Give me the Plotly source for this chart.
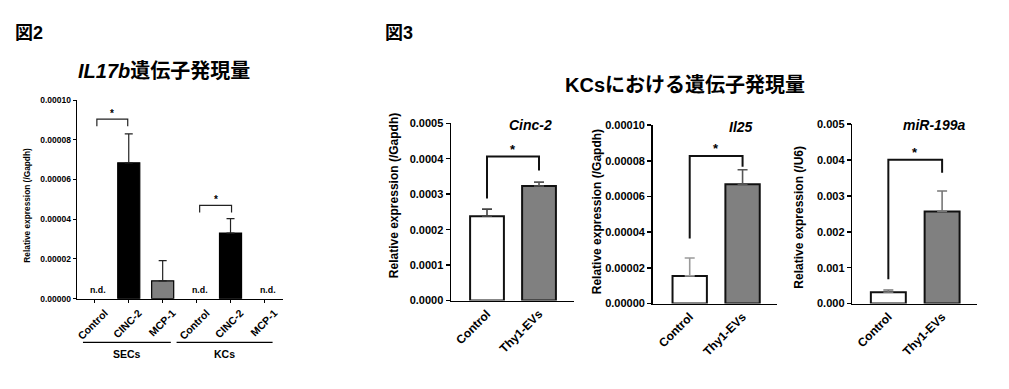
import plotly.graph_objects as go

# ---------------- data ----------------
# Figure 2: IL17b expression
il17b_labels = ["Control", "CINC-2", "MCP-1", "Control", "CINC-2", "MCP-1"]
il17b_values = [None, 0.0000684, 0.0000090, None, 0.0000330, None]
il17b_errors = [None, 0.0000146, 0.0000102, None, 0.0000073, None]
il17b_fills = ["#000000", "#000000", "#808080", "#000000", "#000000", "#000000"]
il17b_groups = ["SECs", "KCs"]
il17b_yticks = [0, 0.00002, 0.00004, 0.00006, 0.00008, 0.00010]

# Figure 3: KCs
kc_labels = ["Control", "Thy1-EVs"]
cinc2_values = [0.000238, 0.000323]
cinc2_errors = [0.000020, 0.000011]
il25_values = [0.0000155, 0.0000669]
il25_errors = [0.0000100, 0.0000081]
mir199a_values = [0.000316, 0.00257]
mir199a_errors = [0.000062, 0.00057]
kc_fills = ["#ffffff", "#808080"]
cinc2_yticks = [0, 0.0001, 0.0002, 0.0003, 0.0004, 0.0005]
il25_yticks = [0, 0.00002, 0.00004, 0.00006, 0.00008, 0.00010]
mir_yticks = [0, 0.001, 0.002, 0.003, 0.004, 0.005]

W, H = 1009, 389
LAT = "Arial, 'Liberation Sans', sans-serif"
CJK = "'Liberation Sans', 'Noto Sans CJK JP', sans-serif"
BLK = "#000000"


def fx(p):
    return p / W


def fy(p):
    return 1 - p / H


def fnt(size, fam=LAT):
    return dict(size=size, weight="bold", family=fam, color=BLK)


fig = go.Figure()

# ---------- panel 1 ----------
for i, (v, e, c) in enumerate(zip(il17b_values, il17b_errors, il17b_fills)):
    if v is None:
        continue
    fig.add_trace(go.Bar(
        x=[i], y=[v], width=0.65, xaxis="x", yaxis="y",
        marker=dict(color=c, line=dict(color=BLK, width=1.2)),
        error_y=dict(type="data", symmetric=False, array=[e], arrayminus=[0],
                     color="#222222", thickness=1.2, width=4),
        showlegend=False, hoverinfo="skip"))

# ---------- panels 2-4 ----------
err_cols = {
    "x2": ["#444444", "#555555"],
    "x3": ["#9a9a9a", "#555555"],
    "x4": ["#777777", "#777777"],
}
for ax, ay, vals, errs in [("x2", "y2", cinc2_values, cinc2_errors),
                           ("x3", "y3", il25_values, il25_errors),
                           ("x4", "y4", mir199a_values, mir199a_errors)]:
    for i, (v, e, c) in enumerate(zip(vals, errs, kc_fills)):
        fig.add_trace(go.Bar(
            x=[i], y=[v], width=0.65, xaxis=ax, yaxis=ay,
            marker=dict(color=c, line=dict(color="#111111", width=2)),
            error_y=dict(type="data", symmetric=False, array=[e], arrayminus=[0],
                         color=err_cols[ax][i], thickness=1.6, width=5),
            showlegend=False, hoverinfo="skip"))

axis_common = dict(showline=True, linecolor=BLK, showgrid=False,
                   zeroline=False, ticks="outside", tickcolor=BLK)

layout = dict(
    width=W, height=H, margin=dict(l=0, r=0, t=0, b=0),
    paper_bgcolor="white", plot_bgcolor="white", barmode="overlay",
    font=dict(family=LAT, color=BLK),
)

# panel 1 axes
layout["xaxis"] = dict(axis_common, domain=[fx(75), fx(282)], anchor="y",
                       range=[-0.53, 5.56], tickvals=list(range(6)),
                       ticktext=il17b_labels, tickangle=-45, ticklen=3,
                       linewidth=1.2, tickwidth=1, ticklabelshift=10,
                       tickfont=fnt(10.5))
layout["yaxis"] = dict(axis_common, domain=[fy(302), fy(97)], anchor="x",
                       range=[0, 0.0001], tickvals=il17b_yticks,
                       tickformat=".5f", ticklen=3, linewidth=1.2, tickwidth=1,
                       tickfont=fnt(8.5))

# panels 2-4 axes
specs = [
    ("2", (450, 573), (304, 121), [-0.69, 1.67], [0, 0.0005], cinc2_yticks, ".4f"),
    ("3", (652, 777), (307, 123), [-0.70, 1.66], [0, 0.0001], il25_yticks, ".5f"),
    ("4", (852, 977), (307, 122), [-0.67, 1.65], [0, 0.005], mir_yticks, ".3f"),
]
for n, (xl, xr), (yb, yt), xr_rng, yr_rng, yt_vals, fmt in specs:
    layout["xaxis" + n] = dict(axis_common, domain=[fx(xl), fx(xr)], anchor="y" + n,
                               range=xr_rng, tickvals=[0, 1], ticktext=kc_labels,
                               tickangle=-45, ticks="", linewidth=1.6,
                               tickfont=fnt(12))
    layout["yaxis" + n] = dict(axis_common, domain=[fy(yb), fy(yt)], anchor="x" + n,
                               range=yr_rng, tickvals=yt_vals, tickformat=fmt,
                               ticklen=4, linewidth=1.6, tickwidth=1.5,
                               tickfont=fnt(11))

fig.update_layout(**layout)

shapes = []
annotations = []

# significance brackets: (xref, yref, x0, x1, y, yleft, yright, linecolor, width)
brackets = [
    ("x", "y", 0.06, 0.97, 0.0000904, 0.0000868, 0.0000868, "#222222", 1.2),
    ("x", "y", 3.09, 4.03, 0.0000470, 0.0000434, 0.0000434, "#222222", 1.2),
    ("x2", "y2", 0.0, 1.0, 0.000406, 0.000288, 0.000367, "#111111", 2),
    ("x3", "y3", 0.0, 1.0, 0.0000827, 0.0000364, 0.0000767, "#111111", 2),
    ("x4", "y4", 0.0, 1.0, 0.00401, 0.000676, 0.00365, "#111111", 2),
]
star_sizes = [10, 10, 13, 13, 13]
for (xr_, yr_, x0, x1, y, yl, yr2, col, lw), ss in zip(brackets, star_sizes):
    path = f"M {x0} {yl} L {x0} {y} L {x1} {y} L {x1} {yr2}"
    shapes.append(dict(type="path", path=path, xref=xr_, yref=yr_,
                       line=dict(color=col, width=lw)))
    annotations.append(dict(x=(x0 + x1) / 2, y=y, xref=xr_, yref=yr_, text="*",
                            showarrow=False, xanchor="center", yanchor="bottom",
                            yshift=-2, font=fnt(ss)))

# n.d. labels
for i, v in enumerate(il17b_values):
    if v is None:
        annotations.append(dict(x=i + 0.1, y=0, xref="x", yref="y", text="n.d.",
                                showarrow=False, xanchor="center", yanchor="bottom",
                                yshift=2, font=fnt(8.8)))

# group lines + labels
for (g0, g1), name in zip([(-0.35, 2.24), (2.41, 5.24)], il17b_groups):
    shapes.append(dict(type="line", xref="x", yref="paper", x0=g0, x1=g1,
                       y0=fy(347), y1=fy(347), line=dict(color=BLK, width=1.2)))
    annotations.append(dict(x=(g0 + g1) / 2, y=fy(359), xref="x", yref="paper",
                            text=name, showarrow=False, xanchor="center",
                            yanchor="middle", font=fnt(10.5)))

# y-axis titles
ytitles = [
    (25, 205, "Relative expression (/Gapdh)", 8.3),
    (393, 196, "Relative expression (/Gapdh)", 12),
    (597, 212, "Relative expression (/Gapdh)", 12),
    (799, 218, "Relative expression (/U6)", 12),
]
for x, y, t, s in ytitles:
    annotations.append(dict(x=fx(x), y=fy(y), xref="paper", yref="paper", text=t,
                            textangle=-90, showarrow=False, xanchor="center",
                            yanchor="middle", font=fnt(s)))

# gene labels
genes = [(530, 123, "Cinc-2"), (740, 125, "Il25"), (934, 123, "miR-199a")]
for x, y, t in genes:
    annotations.append(dict(x=fx(x), y=fy(y), xref="paper", yref="paper",
                            text="<i>" + t + "</i>", showarrow=False,
                            xanchor="center", yanchor="middle", font=fnt(14)))

# figure labels and titles
heads = [
    (27, 28, "図2", 18),
    (398, 28, "図3", 18),
    (162, 67, "<i>IL17b</i>遺伝子発現量", 20),
    (684, 82, "KCsにおける遺伝子発現量", 20),
]
for x, y, t, s in heads:
    annotations.append(dict(x=fx(x), y=fy(y), xref="paper", yref="paper", text=t,
                            showarrow=False, xanchor="center", yanchor="middle",
                            font=fnt(s, CJK)))

fig.update_layout(shapes=shapes, annotations=annotations)
fig.write_html("out.html", config={"displayModeBar": False, "staticPlot": True},
               post_script="document.body.style.margin='0';document.body.style.overflow='hidden';")
